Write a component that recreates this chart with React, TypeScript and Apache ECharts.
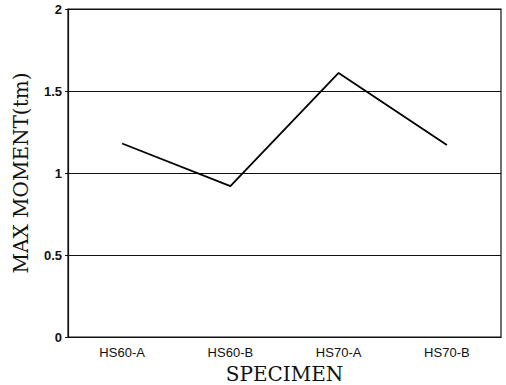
import React, { useEffect, useRef } from "react";
import * as echarts from "echarts";

const categories = ["HS60-A", "HS60-B", "HS70-A", "HS70-B"];
const maxMoment = [1.18, 0.92, 1.61, 1.17];
const yTicks = [0, 0.5, 1, 1.5, 2];

export default function App() {
  const ref = useRef<HTMLDivElement>(null);
  useEffect(() => {
    if (!ref.current) return;
    const chart = echarts.init(ref.current, null, { renderer: "svg" });
    chart.setOption({
      animation: false,
      backgroundColor: "#ffffff",
      grid: {
        left: 68,
        right: 5,
        top: 9,
        bottom: 48,
        show: true,
        borderColor: "#111",
        borderWidth: 1.2,
        containLabel: false,
        outerBoundsMode: "none",
      },
      xAxis: {
        type: "category",
        data: categories,
        boundaryGap: true,
        name: "SPECIMEN",
        nameLocation: "middle",
        nameGap: 24,
        nameTextStyle: { fontFamily: "DejaVu Serif", fontSize: 20, color: "#111" },
        axisLine: { lineStyle: { color: "#111", width: 1.2 } },
        axisTick: { alignWithLabel: true, inside: true, length: 3, lineStyle: { color: "#111" } },
        axisLabel: { fontFamily: "Liberation Sans", fontSize: 13, color: "#111", margin: 9 },
      },
      yAxis: {
        type: "value",
        min: yTicks[0],
        max: yTicks[yTicks.length - 1],
        interval: 0.5,
        name: "MAX MOMENT(tm)",
        nameLocation: "middle",
        nameGap: 37,
        nameTextStyle: { fontFamily: "DejaVu Serif", fontSize: 20, color: "#111" },
        axisLine: { show: true, lineStyle: { color: "#111", width: 1.2 } },
        axisTick: { show: true, length: 3, lineStyle: { color: "#111" } },
        axisLabel: {
          fontFamily: "Liberation Sans",
          fontSize: 13,
          fontWeight: "bold",
          color: "#111",
          margin: 6,
        },
        splitLine: { show: true, lineStyle: { color: "#111", width: 1 } },
      },
      series: [
        {
          type: "line",
          data: maxMoment,
          symbol: "none",
          lineStyle: { color: "#000", width: 1.8 },
        },
      ],
    });
    return () => chart.dispose();
  }, []);
  return <div ref={ref} style={{ width: 506, height: 385, position: "absolute", left: 0, top: 0 }} />;
}
